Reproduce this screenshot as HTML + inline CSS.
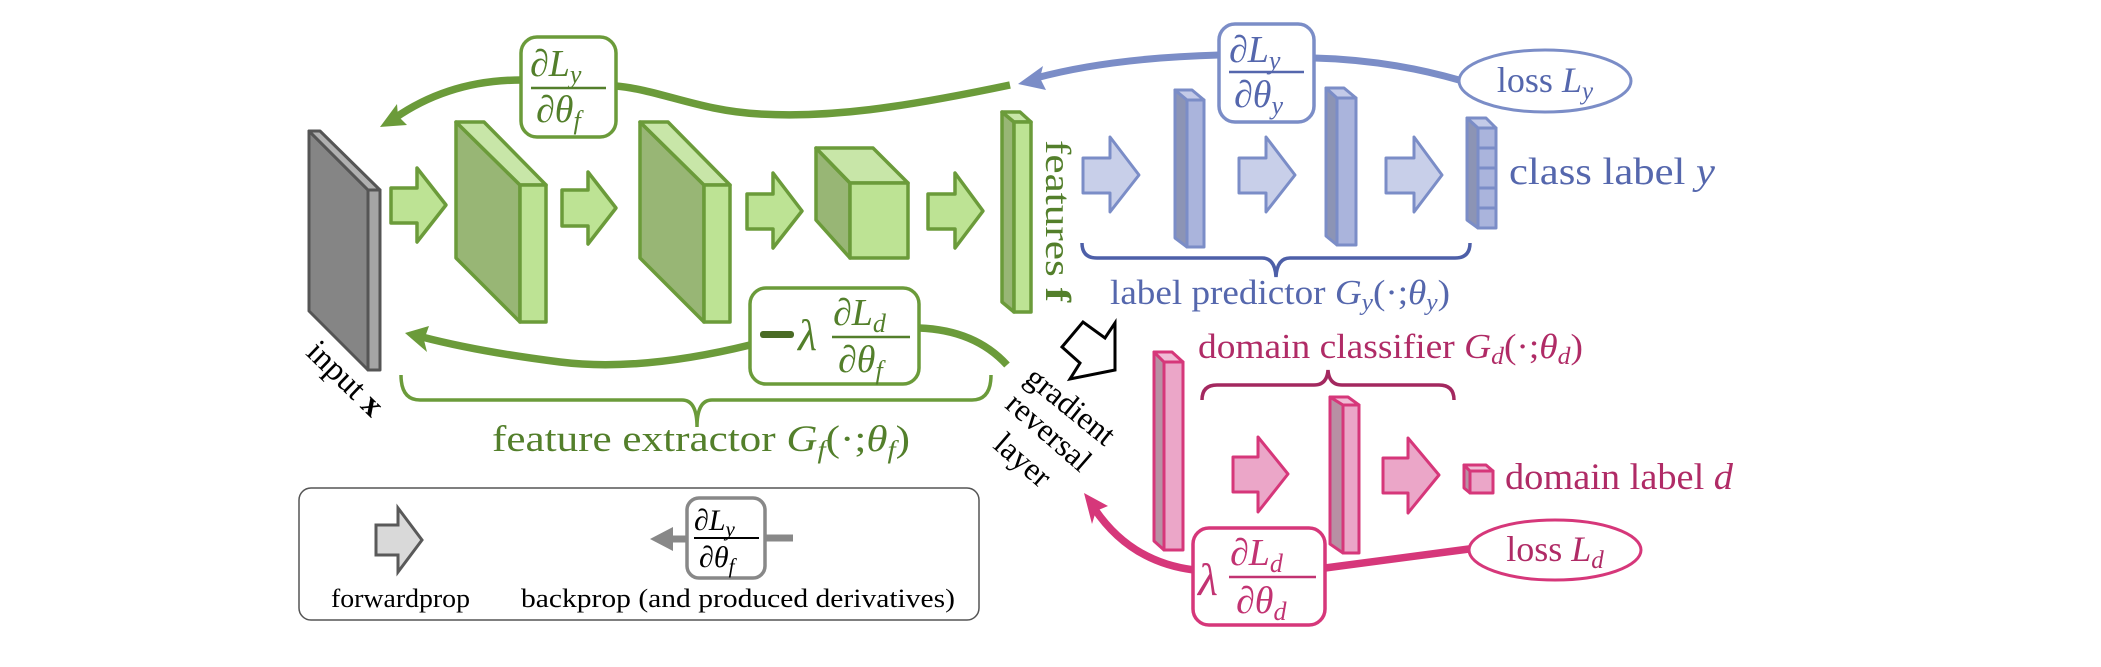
<!DOCTYPE html>
<html><head><meta charset="utf-8"><style>
html,body{margin:0;padding:0;background:#fff;}
svg{display:block;}
text{font-family:"Liberation Serif",serif;}
.it{font-style:italic;}
</style></head><body>
<svg width="2101" height="667" viewBox="0 0 2101 667" xmlns="http://www.w3.org/2000/svg">
<!-- ===== input slab (gray) ===== -->
<g stroke="#555" stroke-width="3" stroke-linejoin="round">
<polygon points="309,131 368,190 368,370 309,311" fill="#858585"/>
<polygon points="309,131 320,131 380,190 368,190" fill="#b0b0b0"/>
<polygon points="368,190 380,190 380,370 368,370" fill="#a5a5a5"/>
</g>
<text x="0" y="0" font-size="33" transform="translate(338,386) rotate(44)" text-anchor="middle">input <tspan font-weight="bold">x</tspan></text>

<!-- ===== green slabs ===== -->
<g stroke="#6b9b3a" stroke-width="3.5" stroke-linejoin="round">
<polygon points="456,122 520,185 520,322 456,258" fill="#98b675"/>
<polygon points="456,122 484,122 546,185 520,185" fill="#c8e6a8"/>
<polygon points="520,185 546,185 546,322 520,322" fill="#bde394"/>
<polygon points="640,122 704,185 704,322 640,258" fill="#98b675"/>
<polygon points="640,122 668,122 730,185 704,185" fill="#c8e6a8"/>
<polygon points="704,185 730,185 730,322 704,322" fill="#bde394"/>
<polygon points="816,148 850,183 850,258 816,220" fill="#98b675"/>
<polygon points="816,148 873,148 908,183 850,183" fill="#c8e6a8"/>
<polygon points="850,183 908,183 908,258 850,258" fill="#bde394"/>
<polygon points="1002,112 1014,122 1014,312 1002,302" fill="#98b675"/>
<polygon points="1002,112 1020,112 1031,122 1014,122" fill="#c8e6a8"/>
<polygon points="1014,122 1031,122 1031,312 1014,312" fill="#bde394"/>
<polygon points="391,188 417,188 417,168 446,205 417,242 417,223 391,223" fill="#bde394"/>
<polygon points="562,190 588,190 588,172 616,208 588,244 588,226 562,226" fill="#bde394"/>
<polygon points="747,194 773,194 773,173 802,211 773,248 773,229 747,229" fill="#bde394"/>
<polygon points="928,194 955,194 955,173 983,211 955,248 955,229 928,229" fill="#bde394"/>
</g>
<text font-size="36" fill="#537f2b" transform="translate(1046,140) rotate(90)" textLength="162" lengthAdjust="spacingAndGlyphs">features <tspan font-weight="bold">f</tspan></text>

<!-- ===== blue ===== -->
<g stroke="#7b8dc7" stroke-width="3" stroke-linejoin="round">
<polygon points="1083,158 1110,158 1110,137 1139,175 1110,212 1110,193 1083,193" fill="#c8cfe9"/>
<polygon points="1239,158 1266,158 1266,137 1295,175 1266,212 1266,193 1239,193" fill="#c8cfe9"/>
<polygon points="1386,158 1414,158 1414,137 1442,175 1414,212 1414,193 1386,193" fill="#c8cfe9"/>
<polygon points="1175,90 1187,100 1187,247 1175,238" fill="#8c94b5"/>
<polygon points="1175,90 1192,90 1204,100 1187,100" fill="#c3cae8"/>
<polygon points="1187,100 1204,100 1204,247 1187,247" fill="#aab4dc"/>
<polygon points="1326,88 1337,98 1337,245 1326,236" fill="#8c94b5"/>
<polygon points="1326,88 1344,88 1356,98 1337,98" fill="#c3cae8"/>
<polygon points="1337,98 1356,98 1356,245 1337,245" fill="#aab4dc"/>
<polygon points="1467,118 1478,128 1478,228 1467,220" fill="#8c94b5"/>
<polygon points="1467,118 1486,118 1496,128 1478,128" fill="#c3cae8"/>
<rect x="1478" y="128" width="18" height="20" fill="#aab4dc"/>
<rect x="1478" y="148" width="18" height="20" fill="#aab4dc"/>
<rect x="1478" y="168" width="18" height="20" fill="#aab4dc"/>
<rect x="1478" y="188" width="18" height="20" fill="#aab4dc"/>
<rect x="1478" y="208" width="18" height="20" fill="#aab4dc"/>
</g>
<text x="1509" y="184" font-size="38" fill="#5567ad" textLength="206" lengthAdjust="spacingAndGlyphs">class label <tspan class="it">y</tspan></text>
<path d="M1082,243 Q1082,258 1097,258 L1262,258 Q1275,258 1276,277 Q1277,258 1290,258 L1455,258 Q1470,258 1470,243" fill="none" stroke="#4d5fa8" stroke-width="3.5"/>
<text x="1110" y="304" font-size="35" fill="#5567ad" textLength="340" lengthAdjust="spacingAndGlyphs">label predictor <tspan class="it">G</tspan><tspan class="it" font-size="24" dy="6">y</tspan><tspan dy="-6">(·;</tspan><tspan class="it">θ</tspan><tspan class="it" font-size="24" dy="6">y</tspan><tspan dy="-6">)</tspan></text>

<path d="M1459,80 Q1390,60 1314,58" fill="none" stroke="#7b8dc7" stroke-width="7"/>
<path d="M1219,55 Q1110,58 1036,78" fill="none" stroke="#7b8dc7" stroke-width="7"/>
<polygon points="1018,84 1043,66 1040,78 1046,90" fill="#7b8dc7"/>
<rect x="1219" y="24" width="95" height="98" rx="16" fill="#fff" stroke="#7b8dc7" stroke-width="3.5"/>
<text x="1229" y="62" font-size="38" fill="#5567ad">∂<tspan class="it">L</tspan><tspan class="it" font-size="26" dy="7">y</tspan></text>
<line x1="1229" y1="72" x2="1304" y2="72" stroke="#5567ad" stroke-width="2.5"/>
<text x="1234" y="107" font-size="38" fill="#5567ad">∂<tspan class="it">θ</tspan><tspan class="it" font-size="26" dy="7">y</tspan></text>
<ellipse cx="1545" cy="81" rx="86" ry="31" fill="#fff" stroke="#7b8dc7" stroke-width="3"/>
<text x="1545" y="92" font-size="36" fill="#5567ad" text-anchor="middle">loss <tspan class="it">L</tspan><tspan class="it" font-size="25" dy="7">y</tspan></text>

<!-- ===== green backprop (top) ===== -->
<path d="M1010,85 C900,108 830,118 760,114 C700,111 660,90 616,86" fill="none" stroke="#6b9b3a" stroke-width="7.5"/>
<path d="M521,80 Q450,80 395,118" fill="none" stroke="#6b9b3a" stroke-width="7.5"/>
<polygon points="380,127 397,104 398,116 407,125" fill="#6b9b3a"/>
<rect x="521" y="37" width="95" height="100" rx="16" fill="#fff" stroke="#6b9b3a" stroke-width="3.5"/>
<text x="530" y="76" font-size="38" fill="#537f2b">∂<tspan class="it">L</tspan><tspan class="it" font-size="26" dy="7">y</tspan></text>
<line x1="531" y1="88" x2="606" y2="88" stroke="#537f2b" stroke-width="2.5"/>
<text x="536" y="122" font-size="38" fill="#537f2b">∂<tspan class="it">θ</tspan><tspan class="it" font-size="26" dy="7">f</tspan></text>

<!-- ===== green backprop (lower) ===== -->
<path d="M919,328 Q975,330 1007,365" fill="none" stroke="#6b9b3a" stroke-width="7.5"/>
<path d="M750,345 Q640,372 560,362 Q480,352 422,337" fill="none" stroke="#6b9b3a" stroke-width="7.5"/>
<polygon points="405,333 429,326 424,340 427,352" fill="#6b9b3a"/>
<rect x="750" y="288" width="169" height="96" rx="16" fill="#fff" stroke="#6b9b3a" stroke-width="3.5"/>
<rect x="760" y="331" width="34" height="7" rx="3" fill="#4a6b25"/>
<text x="798" y="350" font-size="44" class="it" fill="#537f2b">λ</text>
<text x="833" y="325" font-size="38" fill="#537f2b">∂<tspan class="it">L</tspan><tspan class="it" font-size="26" dy="7">d</tspan></text>
<line x1="832" y1="337" x2="910" y2="337" stroke="#537f2b" stroke-width="2.5"/>
<text x="838" y="372" font-size="38" fill="#537f2b">∂<tspan class="it">θ</tspan><tspan class="it" font-size="26" dy="7">f</tspan></text>
<path d="M401,375 Q401,400 420,400 L682,400 Q697,400 697,427 Q697,400 712,400 L972,400 Q991,400 991,375" fill="none" stroke="#6b9b3a" stroke-width="3.5"/>
<text x="492" y="451" font-size="37" fill="#537f2b" textLength="418" lengthAdjust="spacingAndGlyphs">feature extractor <tspan class="it">G</tspan><tspan class="it" font-size="25" dy="7">f</tspan><tspan dy="-7">(·;</tspan><tspan class="it">θ</tspan><tspan class="it" font-size="25" dy="7">f</tspan><tspan dy="-7">)</tspan></text>

<!-- ===== gradient reversal ===== -->
<polygon points="1062,347 1083,322 1105,338 1115,323 1115,370 1070,379 1080,363" fill="#fff" stroke="#000" stroke-width="3" stroke-linejoin="miter"/>
<text x="1064" y="414" font-size="32" text-anchor="middle" transform="rotate(39 1064 414)">gradient</text>
<text x="1042" y="440" font-size="32" text-anchor="middle" transform="rotate(41 1042 440)">reversal</text>
<text x="1016" y="468" font-size="32" text-anchor="middle" transform="rotate(41 1016 468)">layer</text>

<!-- ===== pink ===== -->
<g stroke="#d6377a" stroke-width="3" stroke-linejoin="round">
<polygon points="1154,352 1164,362 1164,550 1154,541" fill="#b890a4"/>
<polygon points="1154,352 1172,352 1183,362 1164,362" fill="#f0bcd6"/>
<polygon points="1164,362 1183,362 1183,550 1164,550" fill="#eba6c8"/>
<polygon points="1330,397 1343,405 1343,553 1330,544" fill="#b890a4"/>
<polygon points="1330,397 1348,397 1359,405 1343,405" fill="#f0bcd6"/>
<polygon points="1343,405 1359,405 1359,553 1343,553" fill="#eba6c8"/>
<polygon points="1464,465 1470,471 1470,493 1464,488" fill="#b890a4"/>
<polygon points="1464,465 1486,465 1493,471 1470,471" fill="#f0bcd6"/>
<polygon points="1470,471 1493,471 1493,493 1470,493" fill="#eba6c8"/>
<polygon points="1233,457 1258,457 1258,437 1288,474 1258,512 1258,492 1233,492" fill="#eba6c8"/>
<polygon points="1383,458 1408,458 1408,438 1439,475 1408,513 1408,493 1383,493" fill="#eba6c8"/>
</g>
<text x="1198" y="358" font-size="35" fill="#b02b66" textLength="385" lengthAdjust="spacingAndGlyphs">domain classifier <tspan class="it">G</tspan><tspan class="it" font-size="24" dy="6">d</tspan><tspan dy="-6">(·;</tspan><tspan class="it">θ</tspan><tspan class="it" font-size="24" dy="6">d</tspan><tspan dy="-6">)</tspan></text>
<path d="M1202,400 Q1202,385 1217,385 L1314,385 Q1327,385 1328,370 Q1329,385 1342,385 L1439,385 Q1454,385 1454,400" fill="none" stroke="#a3285f" stroke-width="3.5"/>
<text x="1505" y="489" font-size="37" fill="#b02b66" textLength="228" lengthAdjust="spacingAndGlyphs">domain label <tspan class="it">d</tspan></text>
<path d="M1469,549 L1325,568" fill="none" stroke="#d6377a" stroke-width="7.5"/>
<path d="M1194,570 Q1130,562 1094,508" fill="none" stroke="#d6377a" stroke-width="7.5"/>
<polygon points="1084,493 1108,506 1096,511 1092,524" fill="#d6377a"/>
<rect x="1193" y="528" width="132" height="97" rx="16" fill="#fff" stroke="#d6377a" stroke-width="3.5"/>
<text x="1198" y="595" font-size="46" class="it" fill="#c23372">λ</text>
<text x="1230" y="565" font-size="38" fill="#c23372">∂<tspan class="it">L</tspan><tspan class="it" font-size="26" dy="7">d</tspan></text>
<line x1="1229" y1="577" x2="1316" y2="577" stroke="#c23372" stroke-width="2.5"/>
<text x="1236" y="613" font-size="38" fill="#c23372">∂<tspan class="it">θ</tspan><tspan class="it" font-size="26" dy="7">d</tspan></text>
<ellipse cx="1555" cy="550" rx="86" ry="30" fill="#fff" stroke="#d6377a" stroke-width="3"/>
<text x="1555" y="561" font-size="36" fill="#b02b66" text-anchor="middle">loss <tspan class="it">L</tspan><tspan class="it" font-size="25" dy="7">d</tspan></text>

<!-- ===== legend ===== -->
<rect x="299" y="488" width="680" height="132" rx="12" fill="#fff" stroke="#555" stroke-width="1.5"/>
<polygon points="376,525 398,525 398,508 422,540 398,572 398,555 376,555" fill="#d9d9d9" stroke="#595959" stroke-width="3"/>
<text x="331" y="607" font-size="26" textLength="139" lengthAdjust="spacingAndGlyphs">forwardprop</text>
<line x1="765" y1="538" x2="793" y2="538" stroke="#888" stroke-width="7"/>
<line x1="670" y1="539" x2="688" y2="539" stroke="#888" stroke-width="7"/>
<polygon points="650,539 673,527 673,551" fill="#888"/>
<rect x="687" y="498" width="78" height="80" rx="12" fill="#fff" stroke="#888" stroke-width="3.5"/>
<text x="694" y="530" font-size="30">∂<tspan class="it">L</tspan><tspan class="it" font-size="21" dy="6">y</tspan></text>
<line x1="694" y1="538" x2="759" y2="538" stroke="#000" stroke-width="2"/>
<text x="699" y="567" font-size="30">∂<tspan class="it">θ</tspan><tspan class="it" font-size="21" dy="6">f</tspan></text>
<text x="521" y="607" font-size="26" textLength="434" lengthAdjust="spacingAndGlyphs">backprop (and produced derivatives)</text>
</svg>
</body></html>
